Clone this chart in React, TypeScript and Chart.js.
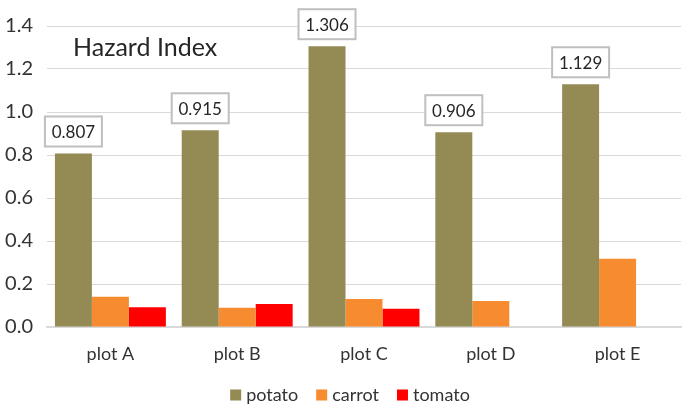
import React, { useEffect, useRef } from "react";
import { Chart, registerables } from "chart.js";

Chart.register(...registerables);

const categories = ["plot A", "plot B", "plot C", "plot D", "plot E"];
const seriesNames = ["potato", "carrot", "tomato"];
const potato = [0.807, 0.915, 1.306, 0.906, 1.129];
const carrot = [0.141, 0.09, 0.13, 0.121, 0.318];
const tomato = [0.092, 0.107, 0.085, null, null];
const colors = ["#948A54", "#F68B2F", "#FF0000"];
const titleText = "Hazard Index";
const yTicks = { min: 0, max: 1.4, step: 0.2 };

const FONT = "Lato, 'Open Sans', sans-serif";
const TEXT = "#333333";

const overlayPlugin = {
  id: "overlay",
  afterDatasetsDraw(chart: any) {
    const ctx = chart.ctx;
    const area = chart.chartArea;
    ctx.save();
    // title inside plot
    ctx.font = `25px ${FONT}`;
    ctx.fillStyle = "#262626";
    ctx.textAlign = "left";
    ctx.textBaseline = "middle";
    ctx.fillText(titleText, area.left + 26, area.top + 22);

    // data label boxes above first series
    const meta = chart.getDatasetMeta(0);
    const vals = chart.data.datasets[0].data;
    ctx.font = `17px ${FONT}`;
    meta.data.forEach((bar: any, i: number) => {
      const label = Number(vals[i]).toFixed(3);
      const w = 57;
      const h = 30;
      const bx = bar.x - w / 2;
      const by = bar.y - 7 - h;
      ctx.fillStyle = "#FFFFFF";
      ctx.fillRect(bx, by, w, h);
      ctx.strokeStyle = "#BFBFBF";
      ctx.lineWidth = 2;
      ctx.strokeRect(bx, by, w, h);
      ctx.fillStyle = "#262626";
      ctx.textAlign = "center";
      ctx.textBaseline = "middle";
      ctx.fillText(label, bar.x, by + h / 2 + 1);
    });

    // legend
    ctx.font = `18px ${FONT}`;
    const box = 11;
    const gapBox = 5;
    const gapItem = 18;
    const items = chart.data.datasets.map((d: any) => ({
      label: d.label,
      color: d.backgroundColor,
      tw: ctx.measureText(d.label).width,
    }));
    const total =
      items.reduce((s: number, it: any) => s + box + gapBox + it.tw, 0) +
      gapItem * (items.length - 1);
    let x = chart.width / 2 + 7.5 - total / 2;
    const cy = 395;
    items.forEach((it: any) => {
      ctx.fillStyle = it.color;
      ctx.fillRect(x, cy - box / 2, box, box);
      x += box + gapBox;
      ctx.fillStyle = TEXT;
      ctx.textAlign = "left";
      ctx.textBaseline = "middle";
      ctx.fillText(it.label, x, cy);
      x += it.tw + gapItem;
    });
    ctx.restore();
  },
};

export default function App() {
  const ref = useRef<HTMLCanvasElement | null>(null);
  useEffect(() => {
    if (!ref.current) return;
    Chart.defaults.font.family = FONT;
    const chart = new Chart(ref.current, {
      type: "bar",
      data: {
        labels: categories,
        datasets: [potato, carrot, tomato].map((d, i) => ({
          label: seriesNames[i],
          data: d as any,
          backgroundColor: colors[i],
          borderWidth: 0,
          categoryPercentage: 0.875,
          barPercentage: 1.0,
        })),
      },
      options: {
        animation: false,
        responsive: false,
        devicePixelRatio: 1,
        layout: { padding: { top: 19, right: 4, left: 0, bottom: 0 } },
        plugins: {
          legend: { display: false },
          tooltip: { enabled: false },
          title: { display: false },
        },
        scales: {
          x: {
            grid: { display: false, drawTicks: false },
            border: { display: true, color: "#D9D9D9", width: 1.5 },
            ticks: {
              color: TEXT,
              font: { size: 18, family: FONT },
              padding: 16,
              maxRotation: 0,
            },
            afterFit: (s: any) => {
              s.height = 82;
            },
          },
          y: {
            min: yTicks.min,
            max: yTicks.max,
            grid: { color: "#D9D9D9", drawTicks: false, lineWidth: 1 },
            border: { display: false },
            ticks: {
              stepSize: yTicks.step,
              color: TEXT,
              font: { size: 20, family: FONT },
              padding: 14,
              callback: (v: any) => Number(v).toFixed(1),
            },
            afterFit: (s: any) => {
              s.width = 47;
            },
          },
        },
      },
      plugins: [overlayPlugin],
    });
    return () => chart.destroy();
  }, []);
  return (
    <div style={{ position: "fixed", left: 0, top: 0, width: 685, height: 409, background: "#fff" }}>
      <canvas ref={ref} width={685} height={409} style={{ width: 685, height: 409 }} />
    </div>
  );
}
